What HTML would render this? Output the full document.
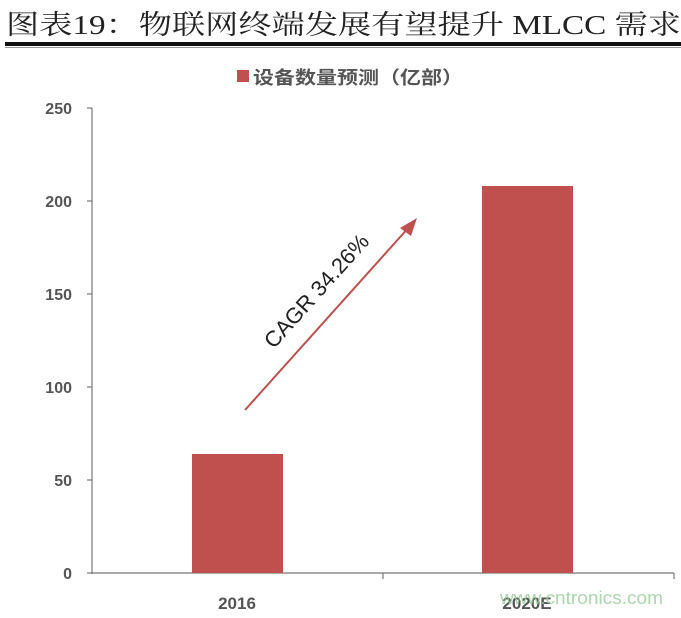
<!DOCTYPE html>
<html><head><meta charset="utf-8"><style>
body{margin:0;background:#fff;width:681px;height:613px;overflow:hidden}
</style></head><body>
<svg width="681" height="613" xmlns="http://www.w3.org/2000/svg">
<text x="6" y="34" font-family="'Liberation Serif','Noto Serif CJK SC',serif" font-size="27" fill="#222" textLength="675" lengthAdjust="spacingAndGlyphs">图表19：物联网终端发展有望提升 MLCC 需求</text>
<rect x="5" y="42" width="676" height="4" fill="#111"/>
<rect x="5" y="47" width="676" height="1" fill="#999"/>
<rect x="237" y="70" width="12" height="12" fill="#c0504d"/>
<text x="253" y="84" font-family="'Liberation Sans','Noto Sans CJK SC',sans-serif" font-size="18" font-weight="bold" fill="#555" textLength="210" lengthAdjust="spacingAndGlyphs">设备数量预测（亿部）</text>
<g font-family="'Liberation Sans',sans-serif" font-size="16" font-weight="bold" fill="#555" text-anchor="end">
<text x="72" y="114">250</text><text x="72" y="207">200</text><text x="72" y="300">150</text>
<text x="72" y="393">100</text><text x="72" y="486">50</text><text x="72" y="579">0</text>
</g>
<g stroke="#777" stroke-width="1.2">
<line x1="92" y1="108" x2="92" y2="574"/>
<line x1="87" y1="108" x2="92" y2="108"/><line x1="87" y1="201" x2="92" y2="201"/>
<line x1="87" y1="294" x2="92" y2="294"/><line x1="87" y1="387" x2="92" y2="387"/>
<line x1="87" y1="480" x2="92" y2="480"/><line x1="87" y1="573" x2="92" y2="573"/>
<line x1="92" y1="573" x2="674" y2="573"/>
<line x1="383" y1="573" x2="383" y2="579"/><line x1="674" y1="573" x2="674" y2="579"/>
</g>
<rect x="192" y="454" width="91" height="119" fill="#c0504d"/>
<rect x="482" y="186" width="91" height="387" fill="#c0504d"/>
<g font-family="'Liberation Sans',sans-serif" font-size="17" font-weight="bold" fill="#555" text-anchor="middle">
<text x="237" y="609">2016</text><text x="527" y="609">2020E</text>
</g>
<line x1="245" y1="410" x2="410" y2="226" stroke="#c0504d" stroke-width="2"/>
<polygon points="417,218 400,228 411,236" fill="#c0504d"/>
<text transform="translate(322,296) rotate(-48)" text-anchor="middle" font-family="'Liberation Sans',sans-serif" font-size="22" fill="#222">CAGR 34.26%</text>
<text x="500" y="604" font-family="'Liberation Sans',sans-serif" font-size="18" fill="#9c9" opacity="0.8" textLength="163" lengthAdjust="spacingAndGlyphs">www.cntronics.com</text>
</svg>
</body></html>
